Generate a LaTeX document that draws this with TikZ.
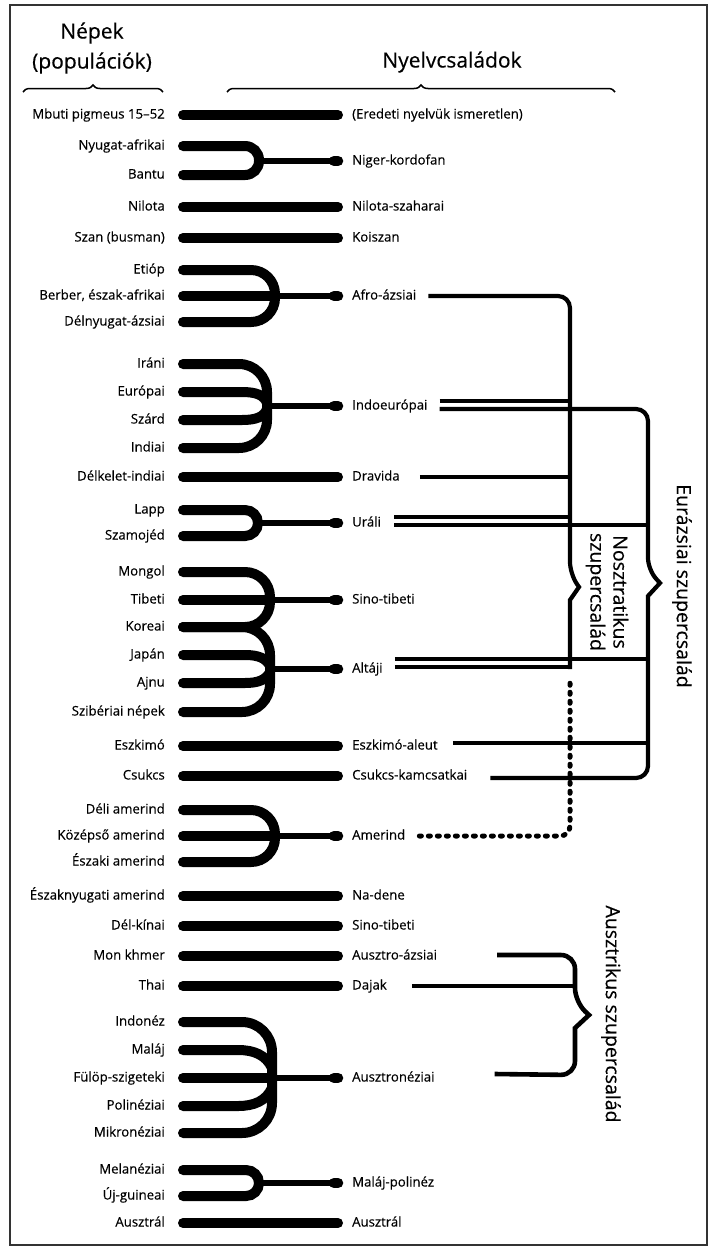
\documentclass[tikz,border=0pt]{standalone}
\usepackage{fontspec}
\setmainfont[FakeBold=0.35]{Open Sans}
\usetikzlibrary{calc,decorations.pathreplacing}

\begin{document}
\begin{tikzpicture}[x=1pt, y=-1pt,
  people/.style={anchor=east, inner sep=0pt, text height=10pt, text depth=3pt, font=\fontsize{13.2}{15}\selectfont},
  family/.style={people, anchor=west},
  header/.style={align=center, font=\fontsize{21}{30}\selectfont},
  superfam/.style={rotate=-90, align=center, font=\fontsize{19.5}{23}\selectfont},
  bar/.style={line width=10pt, line cap=round},
  fork/.style={bar, rounded corners=#1},
  stem/.style={line width=5.5pt},
  blob/.style={line width=10.5pt, line cap=round},
  link/.style={line width=4.2pt},
  dotline/.style={line width=5pt, line cap=round, dash pattern=on 2pt off 7pt},
  hbrace/.style={decorate, decoration={brace, amplitude=7pt}, line width=1.5pt}
]
\useasboundingbox (0,0) rectangle (713,1250);
\draw[line width=1.3pt, black!80] (10,5) rectangle (707,1245);

\node[header] (nepek) at (92,48) {Népek\\(populációk)};
\node[header] (nyelvek) at (452,62) {Nyelvcsaládok};
\draw[hbrace] (23,92) -- (163,92);
\draw[hbrace] (227,92) -- (615,92);

\foreach \n/\y/\t in {mbuti/115/{Mbuti pigmeus 15--52}, nyugat/146/Nyugat-afrikai, bantu/175/Bantu,
    nilota/207/Nilota, szan/238/{Szan (busman)}, etiop/270/Etióp, berber/296/{Berber, észak-afrikai},
    delnyugat/322/Délnyugat-ázsiai, irani/364/Iráni, europai/392/Európai, szard/420/Szárd,
    indiai/448/Indiai, delkelet/477/Délkelet-indiai, lapp/510/Lapp, szamojed/536/Szamojéd,
    mongol/572/Mongol, tibeti/600/Tibeti, koreai/627/Koreai, japan/655/Japán, ajnu/683/Ajnu,
    sziberiai/712/{Szibériai népek}, eszkimo/746/Eszkimó, csukcs/776/Csukcs,
    deli/810/{Déli amerind}, kozepso/836/{Középső amerind}, eszaki/862/{Északi amerind},
    eszaknyugati/896/{Északnyugati amerind}, delkinai/926/Dél-kínai, monkhmer/956/{Mon khmer},
    thai/986/Thai, indonez/1022/Indonéz, malaj/1050/Maláj, fulop/1078/Fülöp-szigeteki,
    polinez/1106/Polinéziai, mikronez/1133/Mikronéziai, melanez/1170/Melanéziai,
    ujguinea/1196/Új-guineai, ausztral/1223/Ausztrál}
  \node[people] (\n) at (165,\y) {\t};

\foreach \n/\y/\t in {unknown/115/{(Eredeti nyelvük ismeretlen)}, niger/161/Niger-kordofan,
    nilota/207/Nilota-szaharai, koiszan/238/Koiszan, afro/296/Afro-ázsiai, indoeur/406/Indoeurópai,
    dravida/477/Dravida, urali/523/Uráli, sino/600/Sino-tibeti, altaji/669/Altáji,
    eszkimo/746/Eszkimó-aleut, csukcs/776/Csukcs-kamcsatkai, amerind/836/Amerind,
    nadene/896/Na-dene, sinob/926/Sino-tibeti, ausztroazsiai/956/Ausztro-ázsiai, dajak/986/Dajak,
    ausztronez/1078/Ausztronéziai, malajpol/1183/Maláj-polinéz, ausztral/1223/Ausztrál}
  \node[family] (f-\n) at (352,\y) {\t};

\foreach \a/\b in {mbuti/unknown, nilota/nilota, szan/koiszan, delkelet/dravida, eszkimo/eszkimo,
    csukcs/csukcs, eszaknyugati/nadene, delkinai/sinob, monkhmer/ausztroazsiai, thai/dajak,
    ausztral/ausztral}
  \draw[bar, shorten <=18pt, shorten >=14pt] (\a.east) -- (f-\b.west);

\coordinate (j-niger) at (259,161);
\coordinate (j-afro) at (275,296);
\coordinate (j-indoeur) at (267,406);
\coordinate (j-urali) at (258,523);
\coordinate (j-sino) at (270,600);
\coordinate (j-altaji) at (270,669);
\coordinate (j-amerind) at (275,836);
\coordinate (j-ausztronez) at (272,1078);
\coordinate (j-malajpol) at (259,1183);

\draw[fork=14] ($(nyugat.east)+(18,0)$) -- (259,146) -- (259,175) -- ($(bantu.east)+(18,0)$);
\draw[fork=24] ($(etiop.east)+(18,0)$) -- (275,270) -- (275,322) -- ($(delnyugat.east)+(18,0)$);
\draw[bar] ($(berber.east)+(18,0)$) -- (j-afro);
\draw[fork=28] ($(irani.east)+(18,0)$) -- (267,364) -- (267,448) -- ($(indiai.east)+(18,0)$);
\draw[bar] ($(europai.east)+(18,0)$) -- (242,392) .. controls (256,392) and (264,395) .. (267,403);
\draw[bar] ($(szard.east)+(18,0)$) -- (242,420) .. controls (256,420) and (264,417) .. (267,409);
\draw[fork=13] ($(lapp.east)+(18,0)$) -- (258,510) -- (258,536) -- ($(szamojed.east)+(18,0)$);
\draw[fork=25] ($(mongol.east)+(18,0)$) -- (270,572) -- (270,627) -- ($(koreai.east)+(18,0)$);
\draw[bar] ($(tibeti.east)+(18,0)$) -- (j-sino);
\draw[fork=28] ($(koreai.east)+(18,0)$) -- (270,627) -- (270,712) -- ($(sziberiai.east)+(18,0)$);
\draw[bar] ($(japan.east)+(18,0)$) -- (245,655) .. controls (258,655) and (266,658) .. (270,666);
\draw[bar] ($(ajnu.east)+(18,0)$) -- (245,683) .. controls (258,683) and (266,680) .. (270,672);
\draw[fork=24] ($(deli.east)+(18,0)$) -- (275,810) -- (275,862) -- ($(eszaki.east)+(18,0)$);
\draw[bar] ($(kozepso.east)+(18,0)$) -- (j-amerind);
\draw[fork=30] ($(indonez.east)+(18,0)$) -- (272,1022) -- (272,1133) -- ($(mikronez.east)+(18,0)$);
\draw[bar] ($(malaj.east)+(18,0)$) -- (238,1050) .. controls (254,1050) and (266,1055) .. (272,1068);
\draw[bar] ($(polinez.east)+(18,0)$) -- (238,1106) .. controls (254,1106) and (266,1101) .. (272,1088);
\draw[bar] ($(fulop.east)+(18,0)$) -- (j-ausztronez);
\draw[fork=13] ($(melanez.east)+(18,0)$) -- (259,1170) -- (259,1196) -- ($(ujguinea.east)+(18,0)$);

\foreach \j in {niger, afro, indoeur, urali, sino, altaji, amerind, ausztronez, malajpol} {
  \draw[stem] (j-\j) -- ($(f-\j.west)+(-14,0)$);
  \draw[blob] ($(f-\j.west)+(-18,0)$) -- ($(f-\j.west)+(-14,0)$);
}

\draw[link, rounded corners=12] ($(f-afro.east)+(12,0)$) -- (570,296) -- (570,574)
  [sharp corners] -- (579,587) -- (570,600) -- (570,669);
\draw[dotline, rounded corners=10] ($(f-amerind.east)+(14,0)$) -- (570,836) -- (570,678);
\draw[link] ($(f-indoeur.east)+(12,-5)$) -- (570,401);
\draw[link] ($(f-dravida.east)+(20,0)$) -- (570,477);
\draw[link] ($(f-urali.east)+(13,-6)$) -- (570,517);
\draw[link] ($(f-altaji.east)+(12,-2)$) -- (570,667);

\draw[link, rounded corners=12] ($(f-indoeur.east)+(12,3)$) -- (648,409) -- (648,570)
  [sharp corners] -- (660,583) -- (648,596) [rounded corners=12] -- (648,778) -- ($(f-csukcs.east)+(23,2)$);
\draw[link] ($(f-urali.east)+(13,2)$) -- (648,525);
\draw[link] ($(f-altaji.east)+(12,-10)$) -- (648,659);
\draw[link] ($(f-eszkimo.east)+(15,-3)$) -- (648,743);

\draw[link, line width=4.6pt, rounded corners=14] ($(f-ausztroazsiai.east)+(60,-1)$) -- (575,955) -- (575,1002)
  [sharp corners] -- (589,1015) -- (575,1028) [rounded corners=14] -- (575,1075) -- ($(f-ausztronez.east)+(60,-4)$);
\draw[link, line width=4.6pt] ($(f-dajak.east)+(25,0)$) -- (575,986);

\node[superfam] (nosztratikus) at (607,592) {Nosztratikus\\szupercsalád};
\node[superfam] (eurazsiai) at (682,586) {Eurázsiai szupercsalád};
\node[superfam] (ausztrikus) at (611,1014) {Ausztrikus szupercsalád};
\end{tikzpicture}
\end{document}
